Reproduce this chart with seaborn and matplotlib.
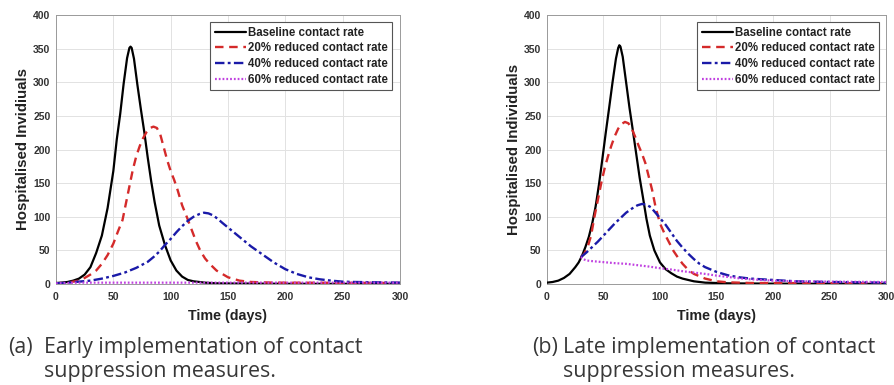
import numpy as np
import pandas as pd
import seaborn as sns
import matplotlib
matplotlib.use("Agg")
import matplotlib.pyplot as plt

# ---------------- data ----------------
# (a) early implementation
a_base_t = [0, 5, 10, 15, 20, 25, 30, 35, 40, 45, 50, 53, 56, 59, 62, 64, 65, 66, 68, 71, 74,
            77, 80, 83, 86, 90, 95, 100, 105, 110, 115, 120, 130, 140, 150, 200, 300]
a_base_v = [1.5, 2, 3, 5, 8, 14, 25, 46, 72, 113, 168, 215, 253, 298, 336, 351, 353, 351, 335,
            296, 260, 226, 188, 153, 122, 87, 58, 35, 20, 11, 6, 4, 2, 1, 0.8, 0.3, 0.2]

a_r20_t = [0, 10, 20, 25, 30, 35, 40, 45, 50, 54, 58, 61, 64, 67, 70, 73, 76, 79, 82, 85, 88,
           91, 94, 97, 100, 103, 106, 110, 114, 118, 122, 126, 130, 134, 140, 150, 160, 170,
           190, 300]
a_r20_v = [1, 2, 5, 9, 14, 20, 30, 43, 60, 78, 95, 120, 145, 170, 190, 205, 217, 226, 232, 234,
           232, 222, 203, 184, 168, 155, 140, 117, 100, 82, 64, 49, 38, 30, 20, 10, 5, 3, 2, 1.5]

a_r40_t = [0, 10, 20, 30, 40, 50, 60, 70, 80, 85, 90, 95, 100, 105, 110, 115, 120, 125, 129,
           133, 137, 141, 145, 150, 155, 160, 170, 180, 190, 200, 210, 220, 230, 240, 250, 260,
           280, 300]
a_r40_v = [1, 2, 3.5, 5, 8, 12, 17, 24, 33, 40, 48, 58, 67, 77, 86, 94, 100, 104, 106, 105,
           102, 97, 91, 84, 77, 70, 56, 44, 32, 22, 15, 10, 7, 5, 3.5, 3, 2.5, 2]

a_r60_t = [0, 10, 20, 50, 100, 150, 200, 250, 300]
a_r60_v = [1, 1.5, 2, 2, 2, 2, 2, 2, 2]

# (b) late implementation
b_base_t = [0, 5, 10, 15, 20, 25, 28, 31, 34, 37, 40, 43, 46, 49, 52, 55, 58, 61, 63, 64, 65,
            67, 70, 73, 76, 79, 82, 85, 88, 91, 95, 100, 105, 110, 115, 120, 125, 130, 140,
            160, 200, 300]
b_base_v = [2, 3, 5, 9, 15, 25, 32, 42, 55, 70, 90, 115, 148, 186, 225, 262, 300, 335, 351,
            355, 353, 338, 300, 262, 228, 193, 158, 128, 97, 72, 50, 32, 22, 16, 11, 8, 6, 4,
            2, 1, 0.5, 0.2]

b_r20_t = [30, 33, 36, 39, 42, 45, 48, 51, 54, 57, 60, 63, 66, 69, 72, 75, 78, 81, 84, 87, 90,
           93, 96, 100, 104, 108, 112, 116, 120, 125, 130, 140, 150, 160, 180, 300]
b_r20_v = [40, 45, 55, 72, 100, 125, 150, 172, 190, 206, 220, 231, 238, 241, 239, 231, 219,
           206, 194, 180, 160, 140, 115, 90, 75, 62, 49, 39, 30, 21, 15, 8, 4, 2.5, 1.5, 1]

b_r40_t = [30, 35, 40, 45, 50, 55, 60, 65, 70, 75, 80, 84, 88, 92, 96, 100, 105, 110, 115,
           120, 125, 130, 135, 140, 150, 160, 170, 180, 190, 200, 220, 250, 300]
b_r40_v = [40, 47, 55, 63, 72, 81, 90, 98, 106, 112, 117, 119, 118, 114, 106, 98, 88, 76, 64,
           54, 45, 37, 30, 25, 18, 13, 10, 8, 7, 6, 4, 3, 2]

b_r60_t = [30, 32, 35, 40, 50, 60, 70, 80, 90, 100, 110, 120, 130, 140, 150, 160, 170, 180,
           190, 200, 220, 250, 300]
b_r60_v = [40, 37, 35, 34, 32.5, 31, 30, 28, 26, 23.5, 21.5, 19, 17, 15, 12.5, 10.5, 8.5, 7,
           6, 5, 4, 3.5, 3]

labels = ["Baseline contact rate", "20% reduced contact rate",
          "40% reduced contact rate", "60% reduced contact rate"]
x_ticks = [0, 50, 100, 150, 200, 250, 300]
y_ticks = [0, 50, 100, 150, 200, 250, 300, 350, 400]
ylabels = ["Hospitalised Invidiuals", "Hospitalised Individuals"]
xlabel = "Time (days)"
captions = [("(a)", "Early implementation of contact", "suppression measures."),
            ("(b)", "Late implementation of contact", "suppression measures.")]

# ---------------- styling ----------------
sns.set_style("white")
plt.rcParams["font.family"] = ["Liberation Sans", "DejaVu Sans"]

colors = ["#000000", "#d42a2a", "#1a1aa8", "#c040e0"]
styles = ["-", (0, (3.6, 2.4)), (0, (4.0, 1.4, 1.2, 1.4)), (0, (0.8, 0.9))]
widths = [1.6, 1.7, 1.7, 1.6]

fig = plt.figure(figsize=(8.95, 3.85), dpi=100)
W, H = 895, 385
boxes = [(56, 400), (547, 886)]
top_px, bot_px = 15, 284

panels = [
    [(a_base_t, a_base_v), (a_r20_t, a_r20_v), (a_r40_t, a_r40_v), (a_r60_t, a_r60_v)],
    [(b_base_t, b_base_v), (b_r20_t, b_r20_v), (b_r40_t, b_r40_v), (b_r60_t, b_r60_v)],
]
legend_box = [(392, 22), (879, 22)]

for i, (x0, x1) in enumerate(boxes):
    ax = fig.add_axes([x0 / W, 1 - bot_px / H, (x1 - x0) / W, (bot_px - top_px) / H])
    for j, (t, v) in enumerate(panels[i]):
        df = pd.DataFrame({"t": t, "v": v})
        sns.lineplot(data=df, x="t", y="v", ax=ax, color=colors[j], linestyle=styles[j],
                     linewidth=widths[j], label=labels[j], zorder=3)
    ax.set_xlim(0, 300)
    ax.set_ylim(0, 400)
    ax.set_xticks(x_ticks)
    ax.set_yticks(y_ticks)
    ax.set_xticklabels([str(x) for x in x_ticks], fontsize=7.5, fontweight="bold")
    ax.set_yticklabels([str(y) for y in y_ticks], fontsize=7.5, fontweight="bold")
    ax.tick_params(axis="both", length=2, width=0.5, direction="in", colors="#888888",
                   labelcolor="#333333")
    ax.tick_params(axis="x", pad=5.5)
    ax.tick_params(axis="y", pad=4)
    ax.grid(True, color="#e2e2e2", linewidth=0.7)
    for s in ax.spines.values():
        s.set_color("#9a9a9a")
        s.set_linewidth(0.7)
    ax.set_xlabel(xlabel, fontsize=10.3, fontweight="bold", color="#222222", labelpad=5)
    ax.set_ylabel(ylabels[i], fontsize=10.8, fontweight="bold", color="#222222", labelpad=2)
    lx = (legend_box[i][0] - x0) / (x1 - x0)
    ly = (bot_px - legend_box[i][1]) / (bot_px - top_px)
    leg = ax.legend(loc="upper right", bbox_to_anchor=(lx, ly), borderaxespad=0,
                    prop={"size": 8.3, "weight": "bold"}, handlelength=2.7,
                    handletextpad=0.15, labelspacing=0.32, borderpad=0.4,
                    frameon=True, fancybox=False, framealpha=1)
    leg.get_frame().set_edgecolor("#555555")
    leg.get_frame().set_linewidth(0.8)
    for txt in leg.get_texts():
        txt.set_color("#222222")

# captions
cap_x = [(8, 44), (532, 563)]
for i, (lab, l1, l2) in enumerate(captions):
    xa, xb = cap_x[i]
    kw = dict(fontsize=15.4, family=["Open Sans", "DejaVu Sans"], color="#383838", va="baseline")
    fig.text(xa / W, 1 - 353 / H, lab, **kw)
    fig.text(xb / W, 1 - 353 / H, l1, **kw)
    fig.text(xb / W, 1 - 377 / H, l2, **kw)

fig.savefig("out.png", dpi=100)
